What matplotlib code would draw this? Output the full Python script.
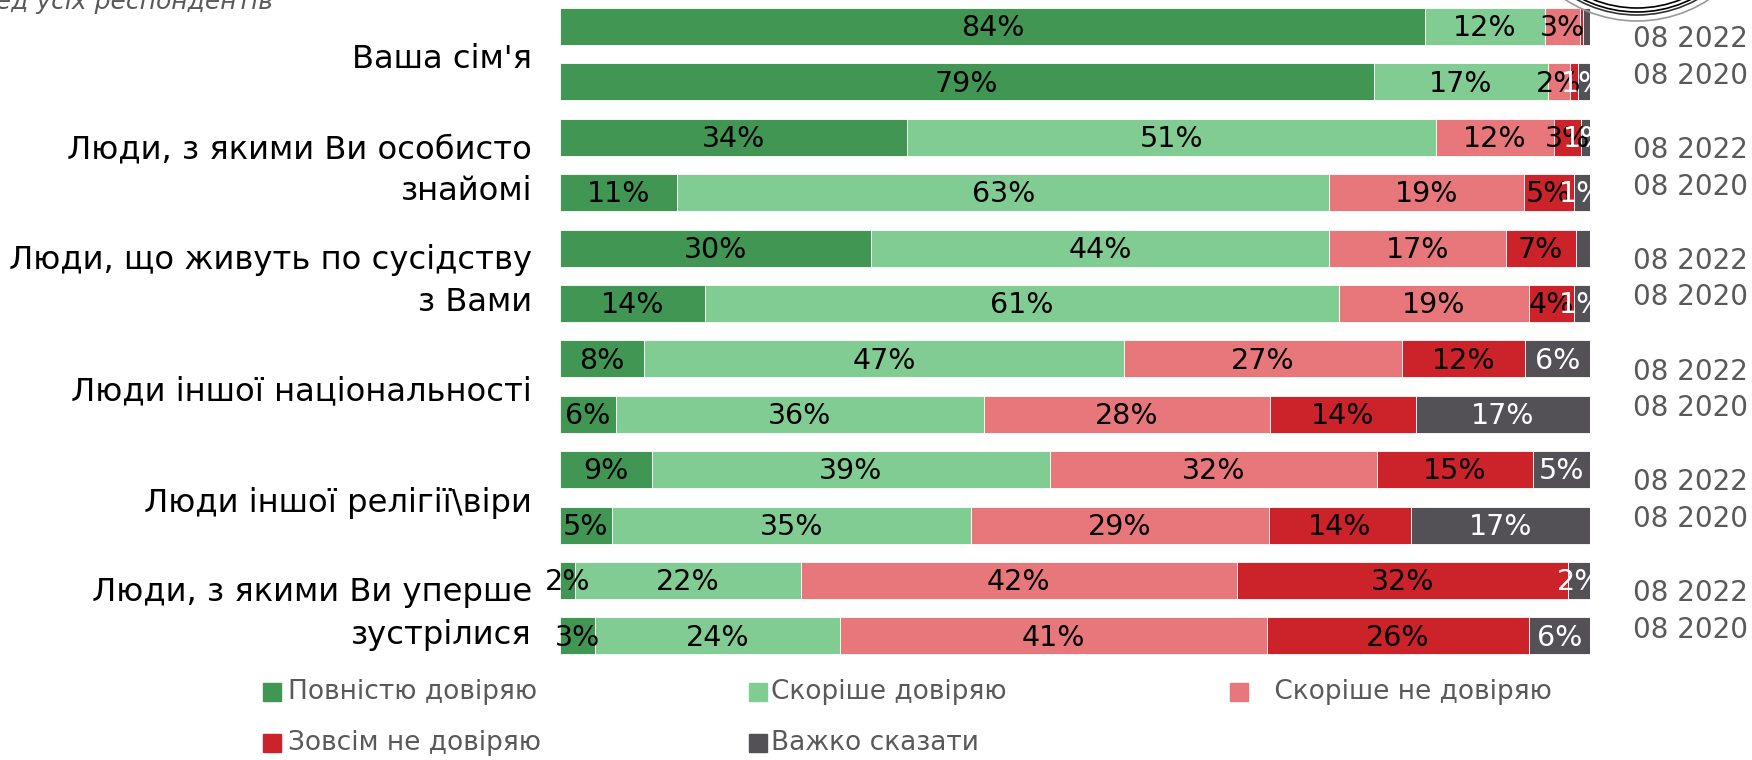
import matplotlib
matplotlib.use("Agg")
import matplotlib.pyplot as plt
from matplotlib.patches import Rectangle, Arc

plt.rcParams['font.family'] = ['DejaVu Sans']

# categories (two bars each: 08 2022 on top, 08 2020 below)
categories = ["Ваша сім'я", "Люди, з якими Ви особисто\nзнайомі",
              "Люди, що живуть по сусідству\nз Вами", "Люди іншої національності",
              "Люди іншої релігії\\віри", "Люди, з якими Ви уперше\nзустрілися"]
years = ["08 2022", "08 2020"]

series_names = ["Повністю довіряю", "Скоріше довіряю", "Скоріше не довіряю",
                "Зовсім не довіряю", "Важко сказати"]
colors = ["#409652", "#81CC92", "#E7777A", "#CB2329", "#535156"]
text_colors = ["black", "black", "black", "black", "white"]

# bar order: family 22, family 20, known 22, known 20, ...
full_trust = [84, 79, 33.7, 11.4, 30.2, 14.1, 8.2, 5.4, 8.9, 5.0, 1.5, 3.4]
rather_trust = [11.6, 16.9, 51.3, 63.3, 44.5, 61.5, 46.6, 35.8, 38.7, 34.9, 21.9, 23.8]
rather_not = [3.4, 2.2, 11.5, 18.9, 17.1, 18.5, 26.9, 27.7, 31.7, 28.9, 42.3, 41.4]
not_at_all = [0.3, 0.7, 2.6, 4.8, 6.8, 4.3, 12.0, 14.2, 15.2, 13.8, 32.2, 25.5]
hard_to_say = [0.7, 1.2, 0.9, 1.6, 1.4, 1.6, 6.3, 16.9, 5.5, 17.4, 2.1, 5.9]

# labels as printed on the bars (None = no label)
full_trust_lbl = [84, 79, 34, 11, 30, 14, 8, 6, 9, 5, 2, 3]
rather_trust_lbl = [12, 17, 51, 63, 44, 61, 47, 36, 39, 35, 22, 24]
rather_not_lbl = [3, 2, 12, 19, 17, 19, 27, 28, 32, 29, 42, 41]
not_at_all_lbl = [None, None, 3, 5, 7, 4, 12, 14, 15, 14, 32, 26]
hard_to_say_lbl = [None, 1, 1, 1, None, 1, 6, 17, 5, 17, 2, 6]

values = [full_trust, rather_trust, rather_not, not_at_all, hard_to_say]
labels = [full_trust_lbl, rather_trust_lbl, rather_not_lbl, not_at_all_lbl, hard_to_say_lbl]

W, H = 1752, 760
fig = plt.figure(figsize=(W / 100, H / 100), dpi=100)

# bar area: x 560..1590 px, first bar centre 26.5 px, pitch 55.4 px
pitch = 55.4
y_top = -26.5 / pitch
y_bot = (670 - 26.5) / pitch
ax = fig.add_axes([560 / W, 1 - 670 / H, 1030 / W, 670 / H])
ax.set_xlim(0, 100)
ax.set_ylim(y_bot, y_top)
ax.axis('off')

n = len(full_trust)
ypos = list(range(n))
# labels may stick out on the left, but are cut at the right end of the bars
clip_rect = Rectangle((-0.2, 0), 1.2, 1, transform=ax.transAxes, fill=False)

left = [0] * n
for vals, lbls, c, tc in zip(values, labels, colors, text_colors):
    ax.barh(ypos, vals, left=left, height=37 / pitch, color=c,
            edgecolor='white', linewidth=0.6)
    for i in range(n):
        if lbls[i] is not None:
            t = ax.text(left[i] + vals[i] / 2, ypos[i] + 0.03, f"{lbls[i]}%",
                        ha='center', va='center', fontsize=20.5, color=tc)
            t.set_clip_path(clip_rect)
    left = [l + v for l, v in zip(left, vals)]

# category labels and year labels
for k, cat in enumerate(categories):
    yc = 2 * k + 0.5
    ax.text(-28 / 1030 * 100, yc + 0.1, cat, ha='right', va='center',
            fontsize=23.2, color='black', linespacing=1.45, clip_on=False)
    for j, yr in enumerate(years):
        ax.text(104.2, yc + (-0.27 if j == 0 else 0.39), yr, ha='left',
                va='center', fontsize=20, color='#595959', clip_on=False)

# overlay in pixel coordinates for legend, subtitle and logo
ov = fig.add_axes([0, 0, 1, 1])
ov.set_xlim(0, W)
ov.set_ylim(H, 0)
ov.axis('off')
ov.patch.set_alpha(0)

ov.text(273, 9, "Серед усіх респондентів", ha='right', va='baseline',
        fontsize=18, style='italic', color='#595959')

for r, col in [(122, 'black'), (118, 'black'), (125, '#333333'), (131, '#999999')]:
    ov.add_patch(Arc((1637, -110), 2 * r, 2 * r, theta1=0, theta2=180,
                     color=col, lw=1.2))

leg_x = [263, 749, 1230]
leg_text_x = [288, 771, 1266]
leg_y = [692, 743]
for idx, (name, c) in enumerate(zip(series_names, colors)):
    row, colm = divmod(idx, 3)
    ov.add_patch(Rectangle((leg_x[colm], leg_y[row] - 9), 18, 18, color=c))
    ov.text(leg_text_x[colm], leg_y[row], name if idx != 2 else " " + name,
            ha='left', va='center', fontsize=19, color='#595959')

fig.savefig("out.png", dpi=100)
